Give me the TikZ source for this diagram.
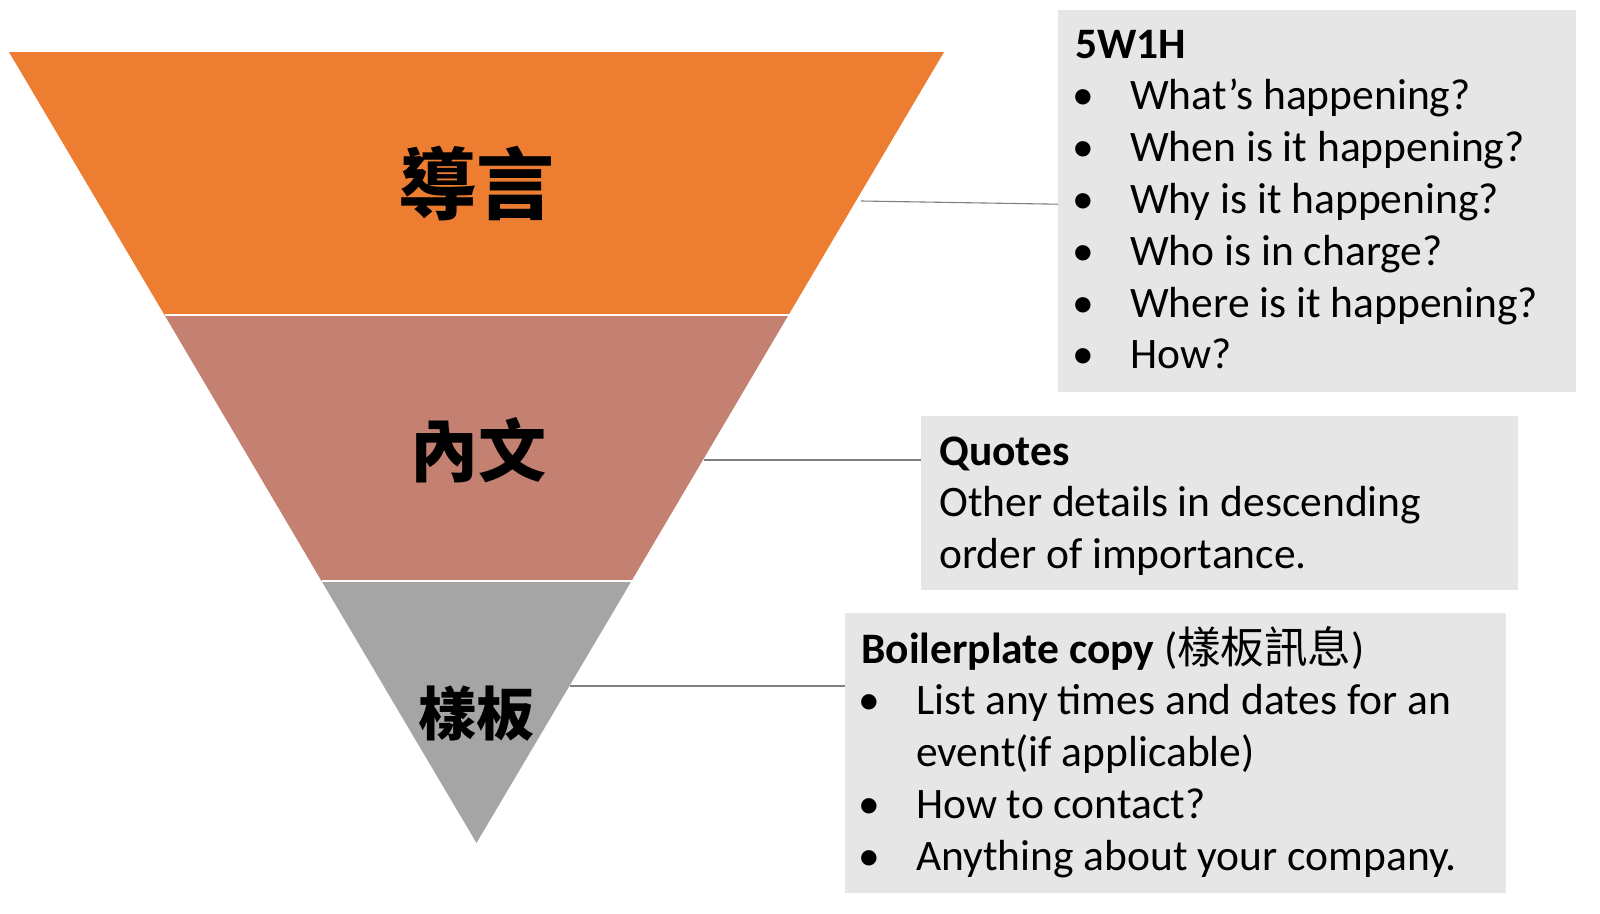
\documentclass[tikz,border=0pt]{standalone}
\usepackage{fontspec}
\setmainfont{Carlito}
\newfontfamily\cjk{Noto Sans CJK TC}
\definecolor{leadorange}{HTML}{ED7D31}
\definecolor{bodyrose}{HTML}{C48070}
\definecolor{plategray}{HTML}{A5A5A5}
\definecolor{notegray}{HTML}{E7E6E6}
\definecolor{linkgray}{HTML}{7F7F7F}
\newcommand{\bul}{\makebox[55pt][l]{\hspace{-3pt}\textbullet}}

\begin{document}
\begin{tikzpicture}[x=1pt, y=-1pt,
	cut/.style={white, line width=2pt},
	note/.style={fill=notegray, anchor=north west, inner sep=0pt},
	notetext/.style={anchor=base west, inner sep=0pt, font=\fontsize{43.5}{51.8}\selectfont},
	title/.style={font=\cjk\bfseries\fontsize{#1}{#1}\selectfont},
	link/.style={linkgray, line width=1.1pt}]
	\useasboundingbox (0,0) rectangle (1600,913);
	% pyramide inversee
	\coordinate (tl) at (9,52);
	\coordinate (tr) at (944,52);
	\coordinate (apex) at (476.5,843);
	\coordinate (m1l) at (164.5,315);
	\coordinate (m1r) at (788.5,315);
	\coordinate (m2l) at (321.5,581);
	\coordinate (m2r) at (631.5,581);
	\fill[leadorange] (tl) -- (tr) -- (m1r) -- (m1l) -- cycle;
	\fill[bodyrose] (m1l) -- (m1r) -- (m2r) -- (m2l) -- cycle;
	\fill[plategray] (m2l) -- (m2r) -- (apex) -- cycle;
	\draw[cut] (m1l) -- (m1r);
	\draw[cut] (m2l) -- (m2r);
	% titres des tranches
	\node[title=78] (lead) at (476,184) {導言};
	\node[title=68] (body) at (478,450) {內文};
	\node[title=58] (plate) at (476,714) {樣板};
	% boites
	\node[note, minimum width=518pt, minimum height=382pt] (box1) at (1058,10) {};
	\node[note, minimum width=597pt, minimum height=174pt] (box2) at (921,416) {};
	\node[note, minimum width=661pt, minimum height=280pt] (box3) at (845,613) {};
	\node[notetext] (txt1) at (1075,58) {\begin{tabular}[t]{@{}l@{}}
		\textbf{5W1H}\\
		\bul What's happening?\\
		\bul When is it happening?\\
		\bul Why is it happening?\\
		\bul Who is in charge?\\
		\bul Where is it happening?\\
		\bul How?
	\end{tabular}};
	\node[notetext] (txt2) at (939,465) {\begin{tabular}[t]{@{}l@{}}
		\textbf{Quotes}\\
		Other details in descending\\
		order of importance.
	\end{tabular}};
	\node[notetext] (txt3) at (861,663) {\begin{tabular}[t]{@{}l@{}}
		\textbf{Boilerplate copy} ({\cjk 樣板訊息})\\
		\bul List any times and dates for an\\
		\makebox[55pt]{}event(if applicable)\\
		\bul How to contact?\\
		\bul Anything about your company.
	\end{tabular}};
	% liens
	\coordinate (e1) at (861,201);
	\coordinate (b1) at ([yshift=-3pt]box1.west);
	\coordinate (e2) at (704,460);
	\coordinate (e3) at (570,686);
	\draw[link] (e1) -- (b1);
	\draw[link] (e2) -- (e2 -| box2.west);
	\draw[link] (e3) -- (e3 -| box3.west);
\end{tikzpicture}
\end{document}
